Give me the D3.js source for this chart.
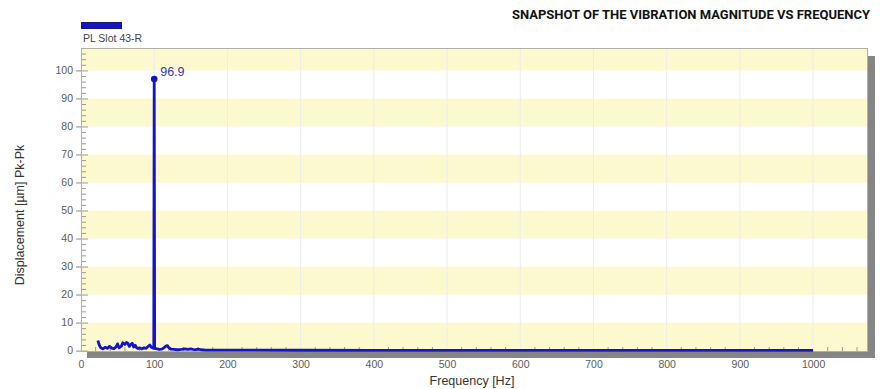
<!DOCTYPE html>
<html>
<head>
<meta charset="utf-8">
<script src="https://cdn.jsdelivr.net/npm/d3@7"></script>
<style>
html,body{margin:0;padding:0;background:#fff;}
svg{display:block;}
</style>
</head>
<body>
<svg id="chart" width="888" height="389"></svg>
<script>
// ---- data ----
const title = "SNAPSHOT OF THE VIBRATION MAGNITUDE VS FREQUENCY";
const seriesName = "PL Slot 43-R";
const xLabel = "Frequency [Hz]";
const yLabel = "Displacement [µm] Pk-Pk";
const freq = [23, 25, 27, 30, 33, 36, 39, 42, 45, 48, 50, 52, 55, 57, 60, 62, 64, 66, 68, 70, 72, 74, 76, 78, 80, 83, 86, 89, 92, 94, 96, 99.4, 100, 100.6, 104, 107, 110, 113, 116, 118, 120, 123, 127, 132, 137, 142, 146, 150, 155, 160, 165, 170, 200, 300, 400, 500, 600, 700, 800, 900, 1000];
const amp  = [3.6, 2.0, 1.0, 0.6, 1.2, 0.8, 1.5, 0.9, 0.7, 1.3, 2.4, 1.0, 1.5, 2.8, 2.2, 2.9, 2.6, 1.5, 2.2, 2.6, 1.3, 1.9, 1.0, 0.7, 1.0, 0.6, 1.0, 0.8, 1.6, 2.0, 1.2, 0.8, 96.9, 0.8, 0.6, 0.4, 0.5, 0.9, 1.6, 1.8, 1.0, 0.5, 0.4, 0.3, 0.4, 0.6, 0.4, 0.6, 0.3, 0.5, 0.3, 0.2, 0.15, 0.12, 0.1, 0.1, 0.1, 0.1, 0.1, 0.1, 0.1];
const peakFreq = 100, peakValue = 96.9;
const xTicks = [0, 100, 200, 300, 400, 500, 600, 700, 800, 900, 1000];
const yTicks = [0, 10, 20, 30, 40, 50, 60, 70, 80, 90, 100];

// ---- layout ----
const svg = d3.select("#chart");
const L = 81, R = 868, T = 48, B = 352;
const x = d3.scaleLinear().domain([0, 1075]).range([L, R]);
const y = d3.scaleLinear().domain([-0.5, 108]).range([B, T]);
const blue = "#1414c8";

// shadow
svg.append("rect").attr("x", R).attr("y", T + 8).attr("width", 7).attr("height", B - T - 2).attr("fill", "#858585");
svg.append("rect").attr("x", L + 6).attr("y", B).attr("width", R - L + 1).attr("height", 6).attr("fill", "#858585");

// background
svg.append("rect").attr("x", L).attr("y", T).attr("width", R - L).attr("height", B - T).attr("fill", "#ffffff");
// stripes: yellow bands 0-10, 20-30, ..., 100-top
const bands = [0, 20, 40, 60, 80, 100];
svg.selectAll("rect.band").data(bands).enter().append("rect")
  .attr("class", "band")
  .attr("x", L).attr("width", R - L)
  .attr("y", d => y(Math.min(d + 10, 108)))
  .attr("height", d => (d === 0 ? B : y(d)) - y(Math.min(d + 10, 108)))
  .attr("fill", "#fcf9cf");

// faint vertical grid
svg.selectAll("line.vg").data(xTicks.slice(1)).enter().append("line")
  .attr("x1", d => x(d)).attr("x2", d => x(d)).attr("y1", T).attr("y2", B)
  .attr("stroke", "#ececec").attr("stroke-width", 1);

// minor ticks
const yMinor = d3.range(0, 108, 2);
svg.selectAll("line.ym").data(yMinor).enter().append("line")
  .attr("x1", L).attr("x2", d => L + (d % 10 === 0 ? 7 : 5))
  .attr("y1", d => y(d) + 0.5).attr("y2", d => y(d) + 0.5)
  .attr("stroke", "#9a9a9a").attr("stroke-width", 1);
const xMinor = d3.range(20, 1075, 20).filter(d => d % 100 !== 0);
svg.selectAll("line.xm").data(xMinor).enter().append("line")
  .attr("x1", d => x(d)).attr("x2", d => x(d))
  .attr("y1", B).attr("y2", B - 5)
  .attr("stroke", "#9a9a9a").attr("stroke-width", 1);

// border
svg.append("rect").attr("x", L + 0.5).attr("y", T + 0.5).attr("width", R - L - 1).attr("height", B - T - 1)
  .attr("fill", "none").attr("stroke", "#b0b0a0").attr("stroke-width", 1);

// axes
const yAxis = svg.append("g").attr("transform", `translate(${L},0)`)
  .call(d3.axisLeft(y).tickValues(yTicks).tickSize(5).tickPadding(3).tickFormat(d3.format("d")));
const xAxis = svg.append("g").attr("transform", `translate(0,${B + 6})`)
  .call(d3.axisBottom(x).tickValues(xTicks).tickSize(0).tickPadding(3).tickFormat(d3.format("d")));
[yAxis, xAxis].forEach(g => {
  g.select(".domain").remove();
  g.selectAll("line").attr("stroke", "#8a8a8a");
  g.selectAll("text").attr("fill", "#5a5a5a").attr("font-family", "Liberation Sans, Arial, sans-serif").attr("font-size", "10.5px");
});

// series line
const line = d3.line().x((d, i) => x(freq[i])).y(d => y(d));
svg.append("path").datum(amp).attr("d", line)
  .attr("fill", "none").attr("stroke", blue).attr("stroke-width", 2.8).attr("stroke-linejoin", "round");

// peak marker + label
svg.append("circle").attr("cx", x(peakFreq)).attr("cy", y(peakValue)).attr("r", 3.3).attr("fill", blue);
svg.append("text").attr("x", x(peakFreq) + 6).attr("y", y(peakValue) - 3)
  .attr("fill", "#3535b5").attr("font-family", "Liberation Sans, Arial, sans-serif").attr("font-size", "12.5px")
  .text(peakValue.toFixed(1));

// legend
svg.append("rect").attr("x", 81.5).attr("y", 22.5).attr("width", 40).attr("height", 6)
  .attr("fill", blue).attr("stroke", "#1a1a7a").attr("stroke-width", 1);
svg.append("text").attr("x", 83).attr("y", 41.5)
  .attr("fill", "#444").attr("font-family", "Liberation Sans, Arial, sans-serif").attr("font-size", "10.5px")
  .text(seriesName);

// title
svg.append("text").attr("x", 870).attr("y", 19).attr("text-anchor", "end")
  .attr("font-family", "Roboto, sans-serif").attr("font-weight", 700).attr("font-size", "12.5px")
  .attr("fill", "#111").attr("textLength", 358).attr("lengthAdjust", "spacingAndGlyphs")
  .text(title);

// axis titles
svg.append("text").attr("x", 472).attr("y", 385).attr("text-anchor", "middle")
  .attr("font-family", "Liberation Sans, Arial, sans-serif").attr("font-size", "12.5px").attr("fill", "#333")
  .text(xLabel);
svg.append("text").attr("transform", "translate(24,215) rotate(-90)").attr("text-anchor", "middle")
  .attr("font-family", "Liberation Sans, Arial, sans-serif").attr("font-size", "12.5px").attr("fill", "#333")
  .text(yLabel);
</script>
</body>
</html>
